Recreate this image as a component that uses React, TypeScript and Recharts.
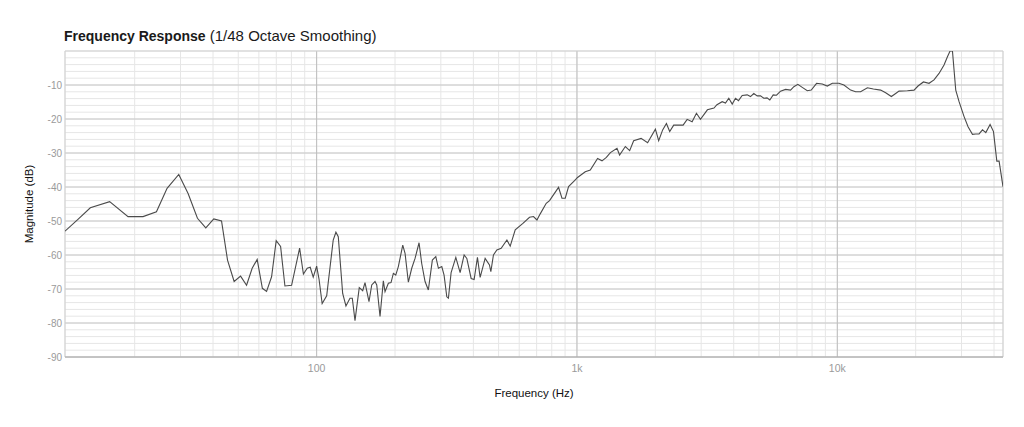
import React from "react";
import {
  LineChart,
  Line,
  XAxis,
  YAxis,
  CartesianGrid,
  ReferenceLine,
  Label,
} from "recharts";

// frequency (Hz) and magnitude (dB)
const freqs = [
  10.8, 12.11, 13.51, 16.03, 18.86, 21.54, 24.25, 26.64, 29.54, 32.08,
  34.85, 37.52, 40.27, 43.12, 45.47, 48.21, 51.03, 53.81, 56.54, 59.1,
  61.88, 64.23, 67.14, 69.93, 72.71, 75.54, 80.14, 86.03, 88.97, 92.01,
  94.49, 97.03, 100, 102.1, 105, 109.3, 115.8, 118.6, 121.1, 125.9,
  129.6, 134.3, 137.1, 140.4, 145.8, 150.3, 153.4, 158.9, 162.8, 167.6,
  170.2, 175.2, 180.4, 183.1, 188.6, 193.1, 197.1, 201.3, 206, 214.2,
  218.6, 225.1, 231.9, 238.8, 247.4, 253.3, 260.9, 268.6, 278.3, 286.9,
  293.6, 302.5, 308.7, 316.2, 320.8, 328.5, 342.5, 355.8, 368.6, 377.5,
  392.2, 402.7, 414.7, 424.7, 443.9, 461.1, 466.9, 477.7, 492.4, 511.5,
  538.1, 554.1, 579.2, 620, 657.3, 681, 701.8, 722.5, 762, 784.6,
  849.7, 875.7, 901.6, 928.4, 979, 1005, 1076, 1125, 1200, 1248,
  1297, 1344, 1425, 1458, 1534, 1594, 1651, 1763, 1868, 2001,
  2060, 2134, 2206, 2271, 2353, 2557, 2650, 2769, 2877, 2981,
  3170, 3359, 3449, 3612, 3720, 3830, 3948, 4064, 4173, 4312,
  4507, 4640, 4778, 4924, 5070, 5221, 5370, 5505, 5673, 5842,
  6053, 6328, 6613, 6810, 7055, 7335, 7667, 7943, 8326, 8755,
  9154, 9568, 10144, 10602, 11250, 11760, 12290, 13050, 13760, 14670,
  15340, 16130, 16760, 17260, 18590, 19710, 20420, 21420, 22510, 23520,
  24590, 25700, 26490, 27110, 27690, 28510, 29360, 30690, 31790, 33050,
  34030, 35040, 36120, 37190, 38630, 39810, 40990, 41830, 43300,
];

const mags = [
  -53, -49.5, -46.1, -44.3, -48.7, -48.7, -47.3, -40.4, -36.3, -41.9,
  -49.2, -52, -49.4, -50, -61.5, -67.8, -66.2, -68.9, -63.9, -61.3,
  -69.8, -70.7, -66.4, -55.8, -57.5, -69.1, -68.9, -58, -65.6, -63.9,
  -63.6, -66.5, -63.3, -67, -74.3, -72, -55.6, -53.3, -54.6, -71.3,
  -75, -72.7, -72.7, -79.3, -69.6, -70.5, -68.1, -73.7, -68.8, -67.8,
  -68.8, -78.1, -67.6, -70.8, -68.3, -68.1, -65.4, -65.9, -63.4, -57.1,
  -59.5, -68, -63.9, -61, -56.4, -62.5, -67.8, -70.3, -61.5, -60.5,
  -63.9, -63.4, -65.9, -72.3, -72.7, -65.2, -60.7, -65.2, -60, -61,
  -66.9, -67.2, -60.7, -66.6, -61, -62.9, -64.9, -60, -58.5, -58,
  -55.6, -57.4, -52.6, -50.7, -48.9, -48.7, -49.7, -47.9, -44.8, -44,
  -40.1, -43.3, -43.3, -39.9, -38.1, -37.2, -35.5, -35, -31.6, -32.3,
  -31.3, -29.9, -28.6, -30.6, -28.1, -29.3, -26.4, -25.7, -27, -23,
  -26.4, -23.2, -21.3, -23.7, -21.8, -21.8, -20.1, -20.8, -18.3, -20.1,
  -17.3, -16.8, -15.8, -14.9, -15.3, -13.9, -15.6, -13.9, -14.6, -13.1,
  -12.9, -13.4, -12.5, -13.2, -13.2, -13.9, -13.8, -14.4, -12.9, -13,
  -11.8, -11.3, -11.5, -10.5, -9.8, -10.7, -11.7, -11.5, -9.5, -9.7,
  -10.3, -9.5, -9.5, -10, -11.5, -12, -12, -10.8, -11.2, -11.5,
  -12.3, -13.4, -12.5, -11.8, -11.7, -11.5, -10.3, -9.1, -9.5, -8.5,
  -6.6, -4.1, -1.7, 0, 0, -11.5, -14.9, -19.3, -22.3, -24.5,
  -24.4, -24.4, -23.2, -24, -21.6, -23.7, -32.4, -32.4, -39.9,
];

const freqDomain = [10.8, 43300];
const minorFreqs = [
  20, 30, 40, 50, 60, 70, 80, 90,
  200, 300, 400, 500, 600, 700, 800, 900,
  2000, 3000, 4000, 5000, 6000, 7000, 8000, 9000,
  20000, 30000, 40000,
];
const majorFreqs = [100, 1000, 10000];
const majorFreqLabels = ["100", "1k", "10k"];

const dbGrid = [
  -90, -88, -86, -84, -82, -80, -78, -76, -74, -72, -70, -68, -66, -64, -62,
  -60, -58, -56, -54, -52, -50, -48, -46, -44, -42, -40, -38, -36, -34, -32,
  -30, -28, -26, -24, -22, -20, -18, -16, -14, -12, -10, -8, -6, -4, -2, 0,
];
const dbMajor = [-90, -80, -70, -60, -50, -40, -30, -20, -10];

const data = freqs.map((f, i) => ({ f, db: mags[i] }));
const xTicks = [...minorFreqs, ...majorFreqs].sort((a, b) => a - b);

const FONT = '"Liberation Sans", Arial, Helvetica, sans-serif';

export default function App() {
  return (
    <div
      style={{
        position: "absolute",
        left: 0,
        top: 0,
        width: 1024,
        height: 427,
        background: "#fff",
        fontFamily: FONT,
      }}
    >
      <div
        style={{
          position: "absolute",
          left: 64,
          top: 28,
          fontSize: 15,
          lineHeight: "16px",
          color: "#1a1a1a",
          whiteSpace: "nowrap",
        }}
      >
        <span style={{ fontWeight: 700, fontSize: 14 }}>Frequency Response</span> (1/48 Octave Smoothing)
      </div>
      <LineChart
        width={1024}
        height={427}
        data={data}
        margin={{ top: 51, right: 21, bottom: 0, left: 0 }}
      >
        <CartesianGrid stroke="#e6e6e6" strokeWidth={1} />
        <XAxis
          dataKey="f"
          type="number"
          scale="log"
          domain={freqDomain}
          allowDataOverflow
          ticks={xTicks}
          interval={0}
          tickFormatter={(v) => {
            const i = majorFreqs.indexOf(v);
            return i >= 0 ? majorFreqLabels[i] : "";
          }}
          tickLine={false}
          tickSize={0}
          tickMargin={8}
          axisLine={{ stroke: "#aaa" }}
          tick={{ fill: "#9a9a9a", fontSize: 10.5 }}
          height={70}
        >
          <Label
            value="Frequency (Hz)"
            position="insideBottom"
            offset={30}
            style={{ fill: "#111", fontSize: 11.5 }}
          />
        </XAxis>
        <YAxis
          dataKey="db"
          type="number"
          domain={[-90, 0]}
          allowDataOverflow
          ticks={dbGrid}
          interval={0}
          tickFormatter={(v) => (dbMajor.includes(v) ? String(v) : "")}
          tickLine={false}
          tickSize={0}
          tickMargin={3}
          axisLine={false}
          tick={{ fill: "#9a9a9a", fontSize: 10 }}
          width={65}
        >
          <Label
            value="Magnitude (dB)"
            angle={-90}
            position="insideLeft"
            offset={29}
            style={{ fill: "#111", fontSize: 11.5, textAnchor: "middle" }}
          />
        </YAxis>
        {dbMajor.map((v) => (
          <ReferenceLine key={"y" + v} y={v} stroke="#c8c8c8" />
        ))}
        {majorFreqs.map((v) => (
          <ReferenceLine key={"x" + v} x={v} stroke="#bdbdbd" />
        ))}
        <ReferenceLine y={0} stroke="#cfcfcf" />
        <ReferenceLine x={freqDomain[0]} stroke="#cfcfcf" />
        <ReferenceLine x={freqDomain[1]} stroke="#cfcfcf" />
        <Line
          type="linear"
          dataKey="db"
          stroke="#4a4a4a"
          strokeWidth={1.1}
          dot={false}
          isAnimationActive={false}
        />
      </LineChart>
    </div>
  );
}
